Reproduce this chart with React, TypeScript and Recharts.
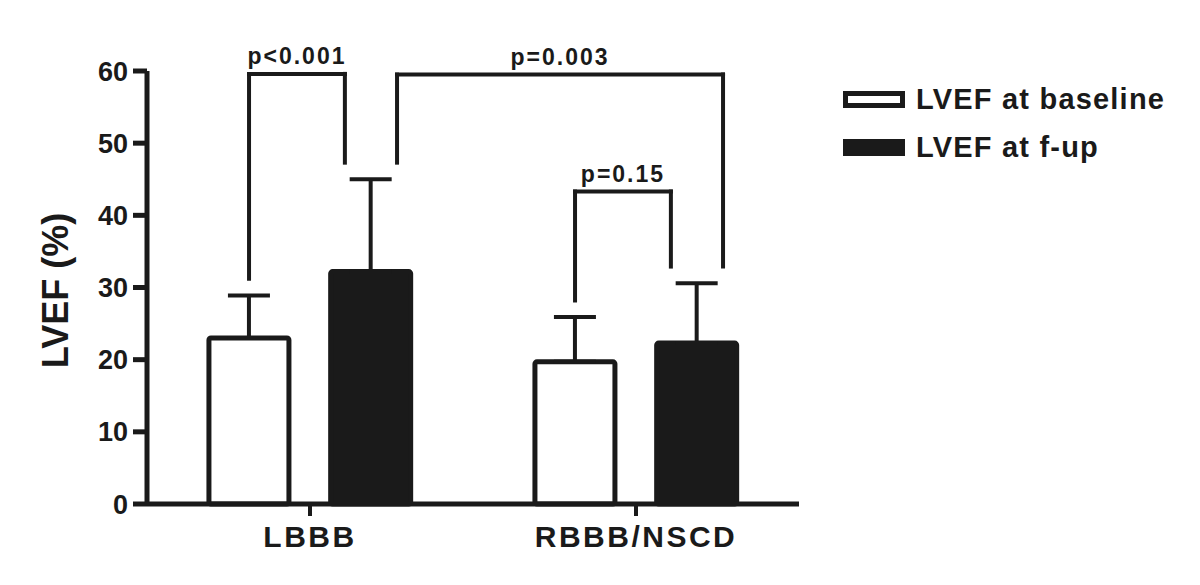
import {
    BarChart,
    Bar,
    XAxis,
    YAxis,
    ErrorBar,
    ReferenceLine,
    Legend,
} from "recharts";

const groups = ["LBBB", "RBBB/NSCD"];
const baselineMean = [23.0, 19.7];
const baselineSd = [5.9, 6.2];
const followUpMean = [32.2, 22.3];
const followUpSd = [12.8, 8.3];
const seriesNames = ["LVEF at baseline", "LVEF at f-up"];
const yTicks = [0, 10, 20, 30, 40, 50, 60];

// significance brackets: each end is [group, series]
const pLabels = ["p<0.001", "p=0.003", "p=0.15"];
const pFrom = [[0, 0], [0, 1], [1, 0]];
const pTo = [[0, 1], [1, 1], [1, 1]];
const pHeight = [59.6, 59.5, 43.3];

const data = groups.map((g, i) => ({
    group: g,
    baseline: baselineMean[i],
    baselineErr: [0, baselineSd[i]],
    followUp: followUpMean[i],
    followUpErr: [0, followUpSd[i]],
}));

const INK = "#1a1a1a";
const FONT = '"Liberation Sans", Arial, Helvetica, sans-serif';

// bar layout, as fractions of one category band
const CAT_GAP = 0.19;
const BAR_GAP = 0.128;
const BAR_W = (1 - 2 * CAT_GAP - BAR_GAP) / 2;
// position on the hidden 0..1 axis that spans the whole plot
const barCenter = (g: number, s: number) =>
    (g + CAT_GAP + BAR_W / 2 + s * (BAR_W + BAR_GAP)) / groups.length;
const LEG_SHIFT = 0.04;
const legShift = [[0, -1], [1, 1], [0, -1]];
const LEG_CLEAR = 2.3;

const errTop = (g: number, s: number) =>
    s === 0 ? baselineMean[g] + baselineSd[g] : followUpMean[g] + followUpSd[g];

const lineProps = {
    xAxisId: "ann",
    stroke: INK,
    strokeWidth: 4,
    strokeLinecap: "square" as const,
    ifOverflow: "visible" as const,
};

const brackets = pLabels.flatMap((label, i) => {
    const [g1, s1] = pFrom[i];
    const [g2, s2] = pTo[i];
    const x1 = barCenter(g1, s1) + legShift[i][0] * LEG_SHIFT;
    const x2 = barCenter(g2, s2) + legShift[i][1] * LEG_SHIFT;
    const top = pHeight[i];
    return [
        <ReferenceLine
            key={`l${i}`}
            {...lineProps}
            segment={[{ x: x1, y: errTop(g1, s1) + LEG_CLEAR }, { x: x1, y: top }]}
        />,
        <ReferenceLine
            key={`r${i}`}
            {...lineProps}
            segment={[{ x: x2, y: errTop(g2, s2) + LEG_CLEAR }, { x: x2, y: top }]}
        />,
        <ReferenceLine
            key={`t${i}`}
            {...lineProps}
            segment={[{ x: x1, y: top }, { x: x2, y: top }]}
            label={{
                value: label,
                position: "top",
                offset: 10,
                fill: INK,
                fontSize: 23,
                fontWeight: 700,
                fontFamily: FONT,
                letterSpacing: 2,
            }}
        />,
    ];
});

const renderLegend = () => (
    <div style={{ paddingLeft: 44, paddingTop: 4, fontFamily: FONT }}>
        {seriesNames.map((name, i) => (
            <div
                key={name}
                style={{ display: "flex", alignItems: "center", height: 48 }}
            >
                <span
                    style={{
                        display: "inline-block",
                        width: 62,
                        height: 17,
                        boxSizing: "border-box",
                        border: `5px solid ${INK}`,
                        background: i === 0 ? "#fff" : INK,
                        marginRight: 11,
                    }}
                />
                <span
                    style={{
                        fontSize: 29,
                        fontWeight: 700,
                        color: INK,
                        letterSpacing: 1.2,
                        whiteSpace: "nowrap",
                    }}
                >
                    {name}
                </span>
            </div>
        ))}
    </div>
);

const YLabel = ({ viewBox }: any) => {
    const cx = viewBox.x + 47;
    const cy = viewBox.y + viewBox.height / 2 + 3;
    return (
        <text
            x={cx}
            y={cy}
            transform={`rotate(-90 ${cx} ${cy})`}
            textAnchor="middle"
            dominantBaseline="central"
            fill={INK}
            fontSize={36}
            fontWeight={700}
            fontFamily={FONT}
        >
            LVEF (%)
        </text>
    );
};

const App = () => {
    return (
        <BarChart
            width={1184}
            height={569}
            data={data}
            margin={{ top: 63, right: 13, bottom: 13, left: 0 }}
            barCategoryGap="19%"
            barGap="12.8%"
        >
            <XAxis
                xAxisId="ann"
                type="number"
                domain={[0, 1]}
                height={0}
                hide
                allowDataOverflow
            />
            <XAxis
                xAxisId="cat"
                dataKey="group"
                height={60}
                tickSize={12}
                tickMargin={10}
                axisLine={{ stroke: INK, strokeWidth: 5 }}
                tickLine={{ stroke: INK, strokeWidth: 4 }}
                tick={{
                    fill: INK,
                    fontSize: 30,
                    fontWeight: 700,
                    fontFamily: FONT,
                    letterSpacing: 2.5,
                }}
            />
            <YAxis
                domain={[0, 60]}
                ticks={yTicks}
                interval={0}
                width={139}
                tickSize={14}
                tickMargin={5}
                axisLine={{ stroke: INK, strokeWidth: 5 }}
                tickLine={{ stroke: INK, strokeWidth: 5 }}
                tick={{
                    fill: INK,
                    fontSize: 27,
                    fontWeight: 700,
                    fontFamily: FONT,
                }}
                label={<YLabel />}
            />
            <Legend
                layout="vertical"
                align="right"
                verticalAlign="top"
                width={380}
                content={renderLegend}
            />
            <Bar
                xAxisId="cat"
                dataKey="baseline"
                name={seriesNames[0]}
                fill="#fff"
                stroke={INK}
                strokeWidth={5}
                radius={2}
                isAnimationActive={false}
            >
                <ErrorBar
                    dataKey="baselineErr"
                    direction="y"
                    width={21}
                    stroke={INK}
                    strokeWidth={4}
                />
            </Bar>
            <Bar
                xAxisId="cat"
                dataKey="followUp"
                name={seriesNames[1]}
                fill={INK}
                stroke={INK}
                strokeWidth={5}
                radius={2}
                isAnimationActive={false}
            >
                <ErrorBar
                    dataKey="followUpErr"
                    direction="y"
                    width={21}
                    stroke={INK}
                    strokeWidth={4}
                />
            </Bar>
            {brackets}
        </BarChart>
    );
};

export default App;
